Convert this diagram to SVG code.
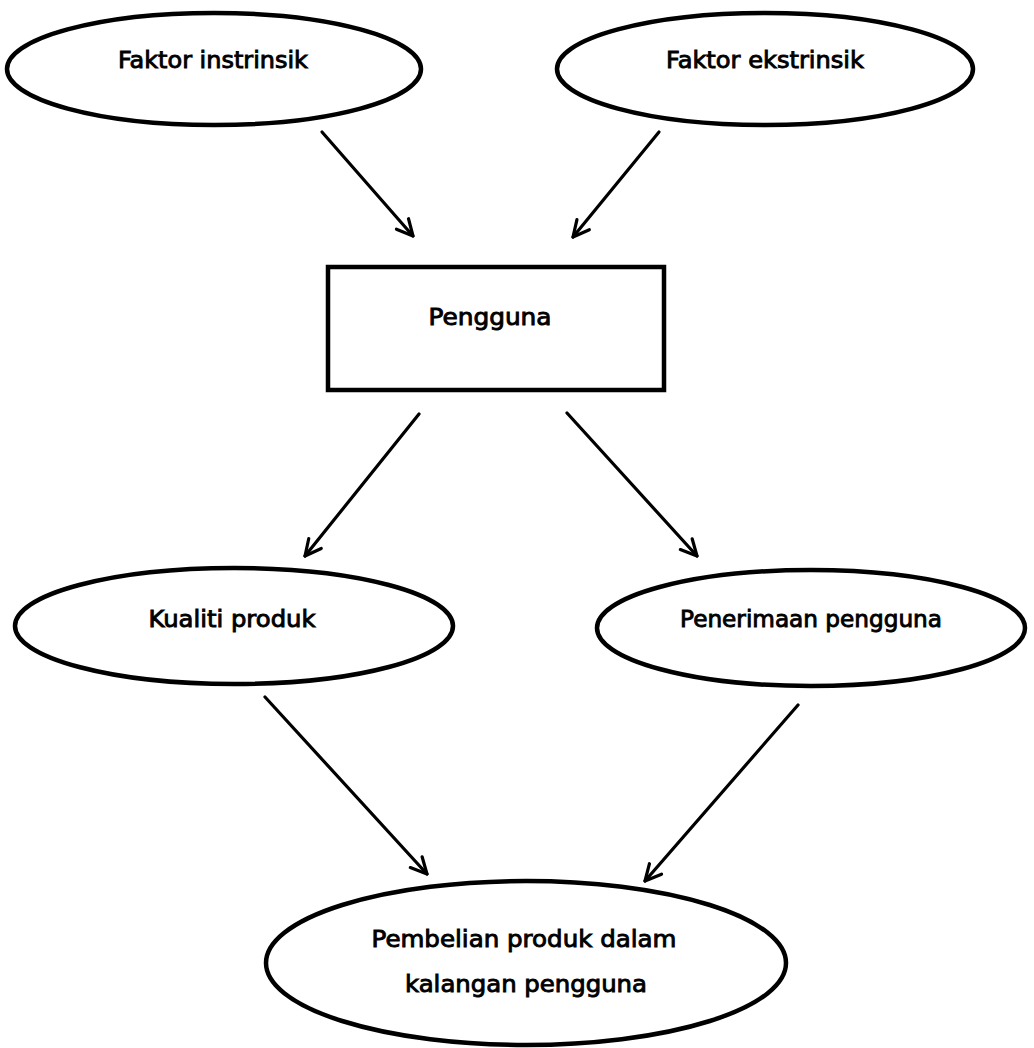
<svg xmlns="http://www.w3.org/2000/svg" width="1034" height="1048" viewBox="0 0 1034 1048">
<defs>
<style>
.node{fill:#fff;stroke:#000;stroke-width:4.5}
.lbl{font-family:"DejaVu Sans","Liberation Sans",sans-serif;font-size:23px;fill:#000;stroke:#000;stroke-width:0.9;text-anchor:middle}
.edge{stroke:#000;stroke-width:3.2;fill:none;stroke-linecap:round}
</style>
<marker id="arr" viewBox="-20 -12 24 24" refX="0" refY="0" markerWidth="24" markerHeight="24" markerUnits="userSpaceOnUse" orient="auto">
<path d="M-16,-8 L0,0 L-16,8" fill="none" stroke="#000" stroke-width="3.2" stroke-linecap="round" stroke-linejoin="round"/>
</marker>
</defs>
<rect width="1034" height="1048" fill="#fff"/>
<g id="n-faktor-instrinsik">
<ellipse class="node" cx="214" cy="69" rx="207" ry="56"/>
<text class="lbl" x="213" y="68" textLength="190" lengthAdjust="spacingAndGlyphs">Faktor instrinsik</text>
</g>
<g id="n-faktor-ekstrinsik">
<ellipse class="node" cx="765" cy="69" rx="208" ry="56"/>
<text class="lbl" x="765" y="68" textLength="198" lengthAdjust="spacingAndGlyphs">Faktor ekstrinsik</text>
</g>
<g id="n-pengguna">
<rect class="node" x="328" y="267" width="336" height="123"/>
<text class="lbl" x="490" y="325" textLength="123" lengthAdjust="spacingAndGlyphs">Pengguna</text>
</g>
<g id="n-kualiti-produk">
<ellipse class="node" cx="234" cy="626" rx="219" ry="58"/>
<text class="lbl" x="232" y="627" textLength="167" lengthAdjust="spacingAndGlyphs">Kualiti produk</text>
</g>
<g id="n-penerimaan-pengguna">
<ellipse class="node" cx="811" cy="628" rx="214" ry="58"/>
<text class="lbl" x="811" y="627" textLength="262" lengthAdjust="spacingAndGlyphs">Penerimaan pengguna</text>
</g>
<g id="n-pembelian">
<ellipse class="node" cx="526" cy="963" rx="260" ry="82"/>
<text class="lbl" x="524" y="947" textLength="305" lengthAdjust="spacingAndGlyphs">Pembelian produk dalam</text>
<text class="lbl" x="526" y="992" textLength="242" lengthAdjust="spacingAndGlyphs">kalangan pengguna</text>
</g>
<g id="connectors">
<line class="edge" x1="322" y1="132" x2="413" y2="236" marker-end="url(#arr)"/>
<line class="edge" x1="659" y1="132" x2="573" y2="237" marker-end="url(#arr)"/>
<line class="edge" x1="419" y1="414" x2="305" y2="556" marker-end="url(#arr)"/>
<line class="edge" x1="567" y1="413" x2="697" y2="556" marker-end="url(#arr)"/>
<line class="edge" x1="265" y1="697" x2="427" y2="874" marker-end="url(#arr)"/>
<line class="edge" x1="798" y1="705" x2="645" y2="881" marker-end="url(#arr)"/>
</g>
</svg>
